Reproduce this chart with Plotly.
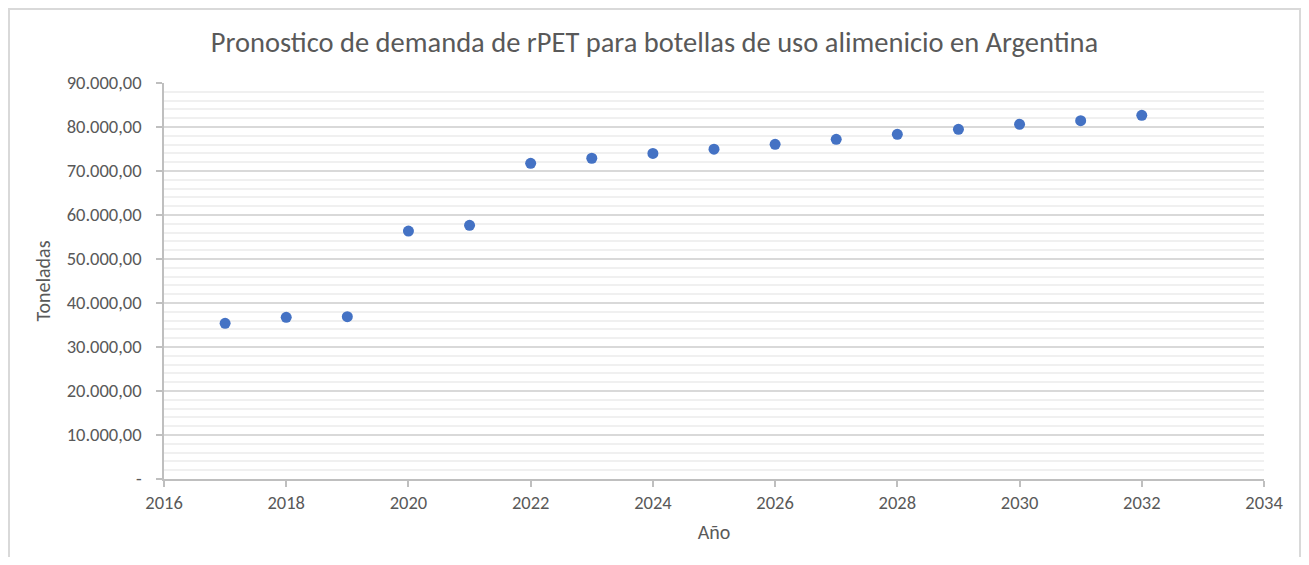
import plotly.graph_objects as go

years = [2017, 2018, 2019, 2020, 2021, 2022, 2023, 2024, 2025, 2026, 2027, 2028, 2029, 2030, 2031, 2032]
toneladas = [35390, 36750, 36900, 56360, 57650, 71750, 72900, 74000, 74950, 76070, 77200, 78340, 79480, 80610, 81430, 82650]

y_tickvals = [0, 10000, 20000, 30000, 40000, 50000, 60000, 70000, 80000, 90000]
y_ticktext = ["-", "10.000,00", "20.000,00", "30.000,00", "40.000,00", "50.000,00",
              "60.000,00", "70.000,00", "80.000,00", "90.000,00"]
x_tickvals = [2016, 2018, 2020, 2022, 2024, 2026, 2028, 2030, 2032, 2034]

FONT = "Carlito, Calibri, 'Open Sans', sans-serif"
TXT = "#595959"

fig = go.Figure()
fig.add_trace(go.Scatter(
    x=years, y=toneladas, mode="markers",
    marker=dict(color="#4472C4", size=11),
    showlegend=False, hoverinfo="x+y",
))

# page body adds an 8px offset; figure coordinates = reference pixels - 8
OFF = 8
W, H = 1309 - 2 * OFF, 565 - 2 * OFF
L = 164 - OFF
T = 83 - OFF
R = W - (1264 - OFF)
B = H - (479 - OFF)
pw, ph = W - L - R, H - T - B

def px_x(p):
    return (p - L) / pw

def px_y(p):
    return (H - B - p) / ph

fig.update_layout(
    width=W, height=H,
    margin=dict(l=L, r=R, t=T, b=B),
    paper_bgcolor="white", plot_bgcolor="white",
    font=dict(family=FONT, color=TXT, size=18),
    title=dict(
        text="Pronostico de demanda de rPET para botellas de uso alimenicio en Argentina",
        x=0.5, xanchor="center", xref="container",
        y=1 - (42 - OFF) / H, yanchor="middle", yref="container",
        font=dict(family=FONT, size=28.5, color=TXT),
    ),
    xaxis=dict(
        range=[2016, 2034], tickvals=x_tickvals, ticktext=[str(v) for v in x_tickvals],
        showgrid=False, zeroline=False,
        showline=True, linecolor="#BFBFBF", linewidth=1.5,
        ticks="outside", ticklen=6, tickcolor="#BFBFBF", tickwidth=1.5,
        tickfont=dict(size=18.5, color=TXT, family=FONT),
        title=dict(text="Año", font=dict(size=20, color=TXT, family=FONT), standoff=12),
    ),
    yaxis=dict(
        range=[0, 90000], tickvals=y_tickvals, ticktext=y_ticktext,
        showgrid=True, gridcolor="#D9D9D9", gridwidth=1.5,
        minor=dict(dtick=2000, showgrid=True, gridcolor="#F0F0F0", gridwidth=1.5),
        zeroline=False,
        showline=True, linecolor="#BFBFBF", linewidth=1.5,
        ticks="outside", ticklen=6, tickcolor="#BFBFBF", tickwidth=1.5,
        ticklabelstandoff=11,
        tickfont=dict(size=18.5, color=TXT, family=FONT),
        title=dict(text="Toneladas", font=dict(size=20, color=TXT, family=FONT), standoff=11),
    ),
    shapes=[dict(
        type="rect", xref="paper", yref="paper",
        x0=px_x(1), x1=px_x(W - 1), y0=px_y(H + 20), y1=px_y(1),
        line=dict(color="#D9D9D9", width=2), fillcolor="rgba(0,0,0,0)", layer="below",
    )],
)

fig.write_html("out.html")
